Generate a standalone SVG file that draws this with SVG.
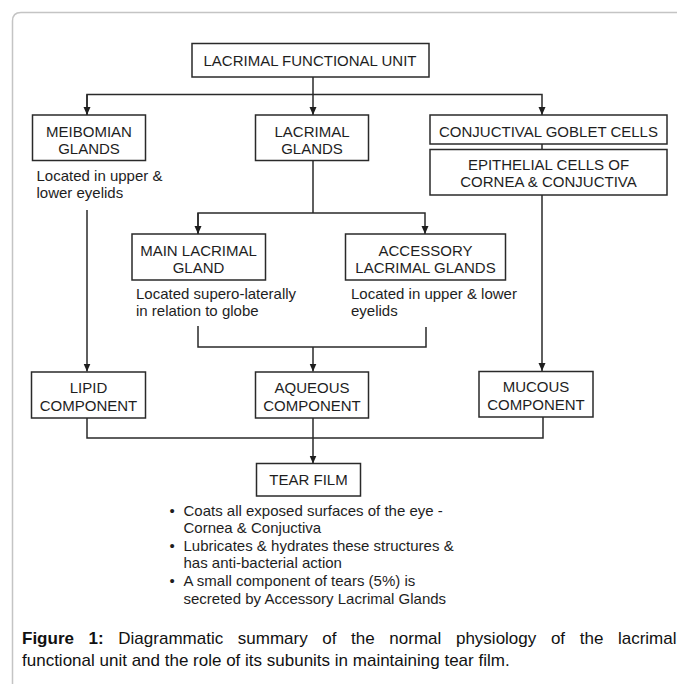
<svg xmlns="http://www.w3.org/2000/svg" width="677" height="684" viewBox="0 0 677 684">
<defs>
<style>
.box{fill:#fff;stroke:#2a2a2a;stroke-width:1.5}
.lbl{font-family:"Liberation Sans",Arial,sans-serif;font-size:15px;fill:#1e1e1e;text-anchor:middle}
.note{font-family:"Liberation Sans",Arial,sans-serif;font-size:15px;fill:#1e1e1e}
.ln{fill:none;stroke:#2a2a2a;stroke-width:1.5}
.cap{font-family:"Liberation Sans",Arial,sans-serif;font-size:17px;fill:#111}
</style>
<marker id="ah" viewBox="0 0 8 8" refX="8" refY="4" markerWidth="8" markerHeight="8" markerUnits="userSpaceOnUse" orient="auto">
<path d="M0,0.5 L8,4 L0,7.5 Z" fill="#1e1e1e"/>
</marker>
</defs>
<rect width="677" height="684" fill="#fff"/>
<path d="M12.5,684 V21 Q12.5,12.5 21,12.5 H677" fill="none" stroke="#c4c4c4" stroke-width="1.5"/>

<g id="connectors">
<path class="ln" d="M313,77 V115" marker-end="url(#ah)"/>
<path class="ln" d="M87,115 V94.5 H542 V115" marker-end="url(#ah)"/>
<path class="ln" d="M87,94.5 V115" marker-end="url(#ah)"/>
<path class="ln" d="M542,144 V149"/>
<path class="ln" d="M313,161 V213"/>
<path class="ln" d="M198,234 V213 H425 V234" marker-end="url(#ah)"/>
<path class="ln" d="M198,213 V234" marker-end="url(#ah)"/>
<path class="ln" d="M87,210 V371.5" marker-end="url(#ah)"/>
<path class="ln" d="M542,195 V371" marker-end="url(#ah)"/>
<path class="ln" d="M198,326 V347 H426 V327"/>
<path class="ln" d="M313,347 V371.5" marker-end="url(#ah)"/>
<path class="ln" d="M87,418 V438 H543 V417"/>
<path class="ln" d="M313,418 V463.5" marker-end="url(#ah)"/>
</g>

<g id="lacrimal-functional-unit">
<rect class="box" x="192" y="43.5" width="237" height="33.5"/>
<text class="lbl" x="310" y="66">LACRIMAL FUNCTIONAL UNIT</text>
</g>

<g id="meibomian-glands">
<rect class="box" x="32.5" y="115" width="113" height="45.5"/>
<text class="lbl" x="89" y="136.5">MEIBOMIAN</text>
<text class="lbl" x="89" y="153.5">GLANDS</text>
<text class="note" x="36.5" y="180.5">Located in upper &amp;</text>
<text class="note" x="36.5" y="197.5">lower eyelids</text>
</g>

<g id="lacrimal-glands">
<rect class="box" x="255.5" y="115" width="113" height="45.5"/>
<text class="lbl" x="312" y="136.5">LACRIMAL</text>
<text class="lbl" x="312" y="153.5">GLANDS</text>
</g>

<g id="goblet-cells">
<rect class="box" x="430" y="115" width="237" height="29"/>
<text class="lbl" x="548.5" y="136.5">CONJUCTIVAL GOBLET CELLS</text>
</g>

<g id="epithelial-cells">
<rect class="box" x="430" y="149.5" width="237" height="45.5"/>
<text class="lbl" x="548.5" y="170">EPITHELIAL CELLS OF</text>
<text class="lbl" x="548.5" y="187">CORNEA &amp; CONJUCTIVA</text>
</g>

<g id="main-lacrimal-gland">
<rect class="box" x="132" y="234" width="133.5" height="46"/>
<text class="lbl" x="198.5" y="255.5">MAIN LACRIMAL</text>
<text class="lbl" x="198.5" y="273">GLAND</text>
<text class="note" x="136" y="298.5">Located supero-laterally</text>
<text class="note" x="136" y="316">in relation to globe</text>
</g>

<g id="accessory-lacrimal-glands">
<rect class="box" x="345.5" y="234" width="160" height="46"/>
<text class="lbl" x="425.5" y="255.5">ACCESSORY</text>
<text class="lbl" x="425.5" y="273">LACRIMAL GLANDS</text>
<text class="note" x="351" y="298.5">Located in upper &amp; lower</text>
<text class="note" x="351" y="316">eyelids</text>
</g>

<g id="lipid-component">
<rect class="box" x="31.5" y="372" width="114" height="46"/>
<text class="lbl" x="88.5" y="393">LIPID</text>
<text class="lbl" x="88.5" y="410.5">COMPONENT</text>
</g>

<g id="aqueous-component">
<rect class="box" x="255.5" y="372" width="113" height="46"/>
<text class="lbl" x="312" y="393">AQUEOUS</text>
<text class="lbl" x="312" y="410.5">COMPONENT</text>
</g>

<g id="mucous-component">
<rect class="box" x="479" y="371.5" width="114" height="45.5"/>
<text class="lbl" x="536" y="392">MUCOUS</text>
<text class="lbl" x="536" y="409.5">COMPONENT</text>
</g>

<g id="tear-film">
<rect class="box" x="256.5" y="463.5" width="104" height="32.5"/>
<text class="lbl" x="308.5" y="485">TEAR FILM</text>
<text class="note">
<tspan x="169.5" y="515.5">•</tspan><tspan x="183.5" y="515.5">Coats all exposed surfaces of the eye -</tspan>
<tspan x="183.5" y="533">Cornea &amp; Conjuctiva</tspan>
<tspan x="169.5" y="550.5">•</tspan><tspan x="183.5" y="550.5">Lubricates &amp; hydrates these structures &amp;</tspan>
<tspan x="183.5" y="568">has anti-bacterial action</tspan>
<tspan x="169.5" y="586">•</tspan><tspan x="183.5" y="586">A small component of tears (5%) is</tspan>
<tspan x="183.5" y="603.5">secreted by Accessory Lacrimal Glands</tspan>
</text>
</g>

<text class="cap" x="22" y="644" word-spacing="9.9"><tspan font-weight="bold">Figure 1:</tspan> Diagrammatic summary of the normal physiology of the lacrimal</text>
<text class="cap" x="22" y="666">functional unit and the role of its subunits in maintaining tear film.</text>
</svg>
